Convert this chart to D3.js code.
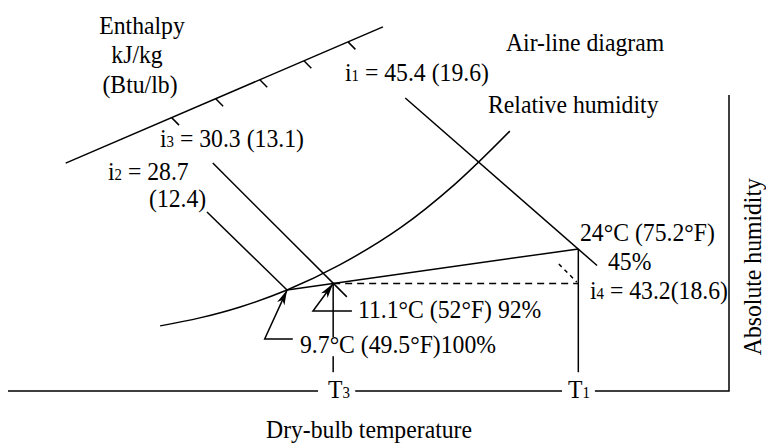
<!DOCTYPE html>
<html>
<head>
<meta charset="utf-8">
<script src="https://cdn.jsdelivr.net/npm/d3@7"></script>
<style>
  body { margin: 0; background: #fff; }
  svg { display: block; }
</style>
</head>
<body>
<svg width="766" height="444" font-family="'Liberation Serif', 'Times New Roman', 'DejaVu Serif', serif" font-size="25.5"></svg>
<script>
// diagram units: dry-bulb axis 0..100, absolute humidity axis 0..100
var saturationX = [21.1, 26.6, 32.2, 38.7, 46.0, 54.4, 62.0, 69.6];
var saturationY = [22.0, 24.7, 28.4, 34.1, 42.6, 55.1, 69.9, 87.8];

// state points: 2 = 9.7°C saturated, 3 = 11.1°C 92%, 1 = 24°C 45%
var stateX = [38.7, 45.1, 79.1];
var stateY = [34.1, 36.3, 48.0];

// enthalpy lines i1, i2, i3 (start, end) and the short dashed i4
var enthalpyStartX = [55.1, 27.6, 28.4, 76.4];
var enthalpyStartY = [99.0, 60.5, 77.0, 42.9];
var enthalpyEndX = [81.7, 38.7, 47.0, 78.9];
var enthalpyEndY = [42.4, 34.1, 31.8, 36.8];

// slanted enthalpy scale
var enthalpyAxisX = [8.0, 52.0];
var enthalpyAxisY = [77.0, 123.0];
var enthalpyTicks = [1, 2, 3, 4, 5];

// leader corners for the two arrows (corner, end of horizontal lead)
var leaderX = [[35.6, 39.5], [42.3, 47.7]];
var leaderY = [17.6, 27.0];

var svg = d3.select("svg"),
    width = +svg.attr("width"),
    height = +svg.attr("height");

var x = d3.scaleLinear().domain([0, 100]).range([8, 729]),
    y = d3.scaleLinear().domain([0, 100]).range([391, 95]);

var tick = d3.scaleLinear().domain([0, 6]).range([0.195, 1.029]);

svg.append("defs").append("marker")
    .attr("id", "arrow")
    .attr("viewBox", "-15 -5 16 10")
    .attr("refX", 0).attr("refY", 0)
    .attr("markerWidth", 16).attr("markerHeight", 10)
    .attr("markerUnits", "userSpaceOnUse")
    .attr("orient", "auto")
  .append("path")
    .attr("d", "M-15,-4L0,0L-15,4L-11,0Z")
    .attr("fill", "#000");

var line = d3.line().x(function(d) { return x(d[0]); }).y(function(d) { return y(d[1]); });

var g = svg.append("g")
    .attr("fill", "none")
    .attr("stroke", "#000")
    .attr("stroke-width", 1.5);

// dry-bulb and absolute humidity axes
g.append("path").attr("d", line([[0, 0], [100, 0], [100, 100]]));

// saturation (relative humidity) curve
g.append("path")
    .attr("d", line.curve(d3.curveCatmullRom)(d3.zip(saturationX, saturationY)));
line.curve(d3.curveLinear);

// mixing line 2 -> 1
g.append("path").attr("d", line([[stateX[0], stateY[0]], [stateX[2], stateY[2]]]));

// dashed horizontal from 3 to the T1 vertical
g.append("path")
    .attr("stroke-dasharray", "7,5")
    .attr("d", line([[stateX[1], stateY[1]], [stateX[2], stateY[1]]]));

// verticals down to T3 and T1
g.selectAll(".drop")
    .data([1, 2])
    .enter().append("path")
    .attr("d", function(i) { return line([[stateX[i], stateY[i]], [stateX[i], 0]]); });

// enthalpy lines
g.selectAll(".enth")
    .data(d3.range(enthalpyStartX.length))
    .enter().append("path")
    .attr("stroke-dasharray", function(i) { return i == 3 ? "4,4" : null; })
    .attr("d", function(i) {
      return line([[enthalpyStartX[i], enthalpyStartY[i]], [enthalpyEndX[i], enthalpyEndY[i]]]);
    });

// enthalpy scale and its ticks
g.append("path").attr("d", line(d3.zip(enthalpyAxisX, enthalpyAxisY)));
var ax0 = x(enthalpyAxisX[0]), ay0 = y(enthalpyAxisY[0]),
    ax1 = x(enthalpyAxisX[1]), ay1 = y(enthalpyAxisY[1]);
g.selectAll(".tick")
    .data(enthalpyTicks)
    .enter().append("line")
    .attr("x1", function(d) { return ax0 + tick(d) * (ax1 - ax0); })
    .attr("y1", function(d) { return ay0 + tick(d) * (ay1 - ay0); })
    .attr("x2", function(d) { return ax0 + tick(d) * (ax1 - ax0) + 7.4; })
    .attr("y2", function(d) { return ay0 + tick(d) * (ay1 - ay0) + 7.5; });

// arrows to states 2 and 3
g.selectAll(".lead")
    .data([0, 1])
    .enter().append("path")
    .attr("marker-end", "url(#arrow)")
    .attr("d", function(i) {
      return line([[leaderX[i][1], leaderY[i]], [leaderX[i][0], leaderY[i]], [stateX[i], stateY[i]]]);
    });

// text, slightly condensed like the original typesetting
var squeeze = 0.93;
function label(px, py, parts, anchor, pad) {
  var t = svg.append("text")
      .attr("transform", "translate(" + px + "," + py + ") scale(" + squeeze + ",1)")
      .attr("fill", "#000")
      .attr("text-anchor", anchor || "start");
  parts.forEach(function(p) {
    var s = t.append("tspan").text(p[0]);
    if (p[1]) s.attr("font-size", 16);
  });
  if (pad) {
    var b = t.node().getBBox();
    svg.insert("rect", function() { return t.node(); })
        .attr("x", px + b.x * squeeze - pad[3]).attr("y", py + b.y - pad[0])
        .attr("width", b.width * squeeze + pad[1] + pad[3])
        .attr("height", b.height + pad[0] + pad[2])
        .attr("fill", "#fff");
  }
  return t;
}

label(142, 34, [["Enthalpy"]], "middle");
label(137, 63, [["kJ/kg"]], "middle");
label(140, 93, [["(Btu/lb)"]], "middle");
label(506, 51, [["Air-line diagram"]]);
label(345, 81, [["i"], ["1", 1], [" = 45.4 (19.6)"]]);
label(488, 113, [["Relative humidity"]]);
label(160, 147, [["i"], ["3", 1], [" = 30.3 (13.1)"]]);
label(108, 180, [["i"], ["2", 1], [" = 28.7"]]);
label(149, 207, [["(12.4)"]]);
label(580, 241, [["24°C (75.2°F)"]]);
label(608, 270, [["45%"]]);
label(590, 299, [["i"], ["4", 1], [" = 43.2(18.6)"]]);
label(358, 318, [["11.1°C (52°F) 92%"]]);
label(300, 353, [["9.7°C (49.5°F)100%"]], "start", [-7, 2, -3, 3]);
label(328, 398, [["T"], ["3", 1]], "start", [3, 5, 0, 10]);
label(568, 398, [["T"], ["1", 1]], "start", [3, 5, 0, 6]);
label(369, 438, [["Dry-bulb temperature"]], "middle");

svg.append("text")
    .attr("transform", "translate(761," + y(42) + ") rotate(-90) scale(" + squeeze + ",1)")
    .attr("text-anchor", "middle")
    .attr("fill", "#000")
    .text("Absolute humidity");
</script>
</body>
</html>
